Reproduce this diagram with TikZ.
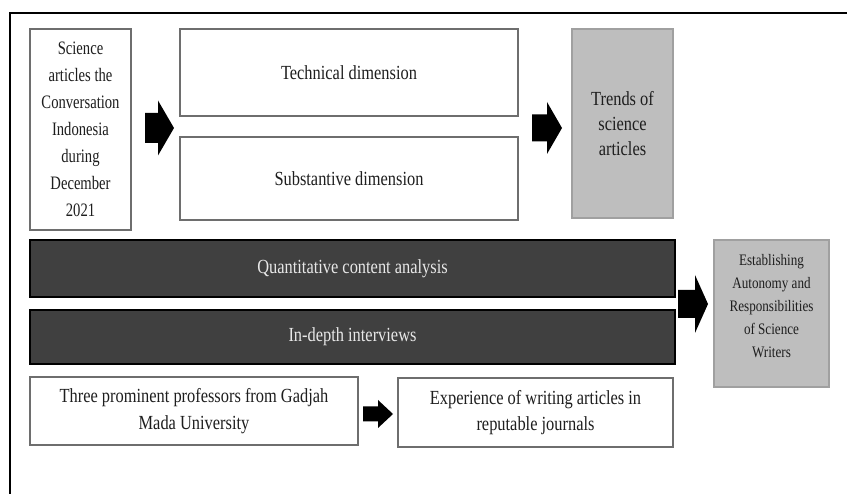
\documentclass[tikz,border=0pt]{standalone}
\usepackage{fontspec}
\setmainfont{Liberation Serif}[FakeStretch=0.82]
\newfontfamily\narrowA{Liberation Serif}[FakeStretch=0.77]
\definecolor{boxline}{HTML}{6E6E6E}
\definecolor{barfill}{HTML}{404040}
\definecolor{bartext}{HTML}{E8E8E8}
\definecolor{grayfill}{HTML}{BEBEBE}
\definecolor{grayline}{HTML}{A0A0A0}
\definecolor{txt}{HTML}{1E1E1E}
\tikzset{
  whitebox/.style={draw=boxline, line width=1.5pt, fill=white, inner sep=0pt, align=center, text=txt,
    font=\fontsize{20}{26.5}\selectfont},
  darkbar/.style={draw=black, line width=2pt, fill=barfill, inner sep=0pt, align=center, text=bartext,
    font=\fontsize{20}{26.5}\selectfont},
  graybox/.style={draw=grayline, line width=1.5pt, fill=grayfill, inner sep=0pt, align=center, text=txt},
  pics/barrow/.style n args={4}{code={
    \fill[black] (0,-#3) -- (#2,-#3) -- (#2,-#4) -- (#1,0) -- (#2,#4) -- (#2,#3) -- (0,#3) -- cycle;}}
}
\begin{document}
\begin{tikzpicture}[x=1pt, y=-1pt]
\useasboundingbox (0,0) rectangle (847,494);
% outer frame (only top and left visible)
\draw[line width=2pt, black] (10,494) -- (10,13) -- (847,13);

% top row
\node[whitebox, minimum width=101pt, minimum height=201pt, font=\narrowA\fontsize{19}{27}\selectfont]
  (src) at (80.5,129.5) {Science\\articles the\\Conversation\\Indonesia\\during\\December\\2021};
\node[whitebox, minimum width=338pt, minimum height=87pt] (tech) at (349,72.5) {Technical dimension};
\node[whitebox, minimum width=338pt, minimum height=83pt] (subst) at (349,178.5) {Substantive dimension};
\node[graybox, minimum width=101pt, minimum height=189pt, font=\fontsize{20}{25}\selectfont]
  (trends) at (622.5,123.5) {Trends of\\science\\articles};

% bars
\node[darkbar, minimum width=645pt, minimum height=57pt] (quant) at (352.5,268.5) {Quantitative content analysis};
\node[darkbar, minimum width=645pt, minimum height=54pt] (indepth) at (352.5,337) {In-depth interviews};

% bottom row
\node[whitebox, minimum width=328pt, minimum height=68pt] (prof) at (194,411)
  {Three prominent professors from Gadjah\\Mada University};
\node[whitebox, minimum width=275pt, minimum height=69pt] (exp) at (535.5,412.5)
  {Experience of writing articles in\\reputable journals};

% result box
\node[graybox, minimum width=115pt, minimum height=147pt] (estab) at (771.5,313.5) {};
\node[align=center, text=txt, inner sep=0pt, font=\fontsize{16}{23}\selectfont]
  (estabtxt) at ([yshift=7pt]estab.center)
  {Establishing\\Autonomy and\\Responsibilities\\of Science\\Writers};

% block arrows
\pic at (145,128) {barrow={29}{13}{15}{27.5}};
\pic at (532,128) {barrow={30}{15}{13.5}{26}};
\pic at (678,304) {barrow={30}{17}{14}{29}};
\pic at (363,414) {barrow={30}{15}{7.5}{14}};
\end{tikzpicture}
\end{document}
